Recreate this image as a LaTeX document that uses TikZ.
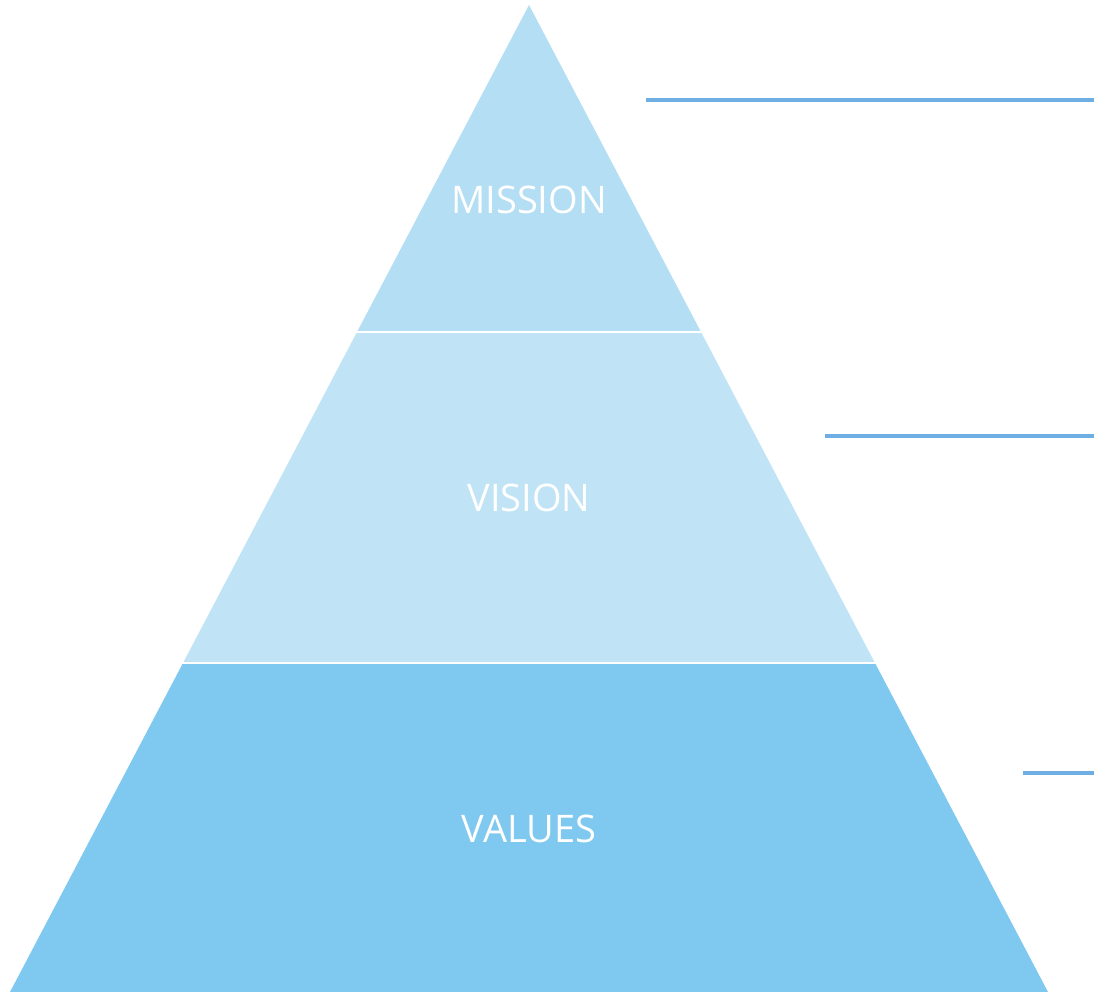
\documentclass[tikz,border=0pt]{standalone}
\usepackage{fontspec}
\setmainfont{Open Sans}
\definecolor{ctop}{HTML}{B3DEF4}
\definecolor{cmid}{HTML}{C0E4F5}
\definecolor{cbot}{HTML}{7FC8EF}
\definecolor{cline}{HTML}{6FAEE3}
\begin{document}
\begin{tikzpicture}[x=1pt,y=-1pt,
  lvl/.style={text=white,font=\fontsize{38}{42}\selectfont},
  lead/.style={draw=cline,line width=3.5pt}]
\useasboundingbox (0,0) rectangle (1094,992);
\coordinate (apex) at (529,5);
\fill[ctop] (apex) -- (701,332) -- (357,332) -- cycle;
\fill[cmid] (357,332) -- (701,332) -- (875,663) -- (183,663) -- cycle;
\fill[cbot] (183,663) -- (875,663) -- (1048,992) -- (10,992) -- cycle;
\draw[white,line width=2pt] (350,332) -- (708,332);
\draw[white,line width=2pt] (176,663) -- (882,663);
\node[lvl] (mission) at (529,200) {MISSION};
\node[lvl] (vision) at (529,498) {VISION};
\node[lvl] (values) at (529,829) {VALUES};
\coordinate (l1a) at (646,100); \coordinate (l1b) at (1094,100);
\coordinate (l2a) at (825,436); \coordinate (l2b) at (1094,436);
\coordinate (l3a) at (1023,773); \coordinate (l3b) at (1094,773);
\draw[lead] (l1a) -- (l1b);
\draw[lead] (l2a) -- (l2b);
\draw[lead] (l3a) -- (l3b);
\end{tikzpicture}
\end{document}
